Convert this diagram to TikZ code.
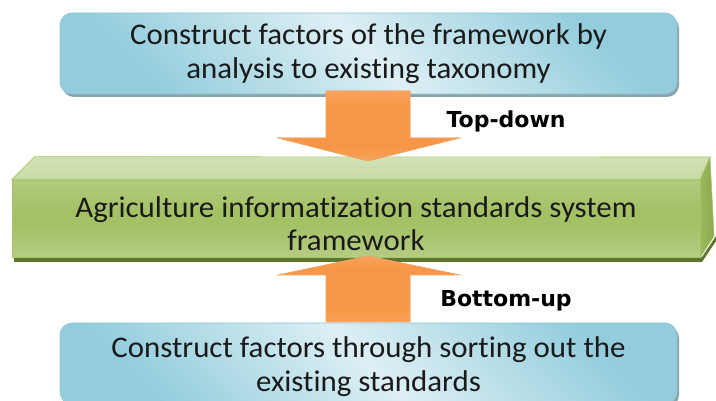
\documentclass[tikz,border=0pt]{standalone}
\usepackage{fontspec}
\setmainfont{Carlito}[FakeStretch=1.03, Ligatures={NoCommon}]
\newfontfamily\labfont{DejaVu Sans}
\usetikzlibrary{calc,shadows}
\definecolor{bdark}{HTML}{93CDDD}
\definecolor{blight}{HTML}{DDEFF4}
\definecolor{bedge}{HTML}{8DC6D6}
\definecolor{bshadow}{HTML}{8BA4AC}
\definecolor{gtop}{HTML}{C4D79C}
\definecolor{gmid}{HTML}{A4C166}
\definecolor{gbot}{HTML}{CBDCA9}
\definecolor{gedge}{HTML}{A9C56F}
\definecolor{gtopface}{HTML}{C8DBA4}
\definecolor{gside}{HTML}{9BB95C}
\definecolor{gsidedark}{HTML}{8AA84C}
\definecolor{gshadow}{HTML}{5E7430}
\definecolor{olight}{HTML}{FBC195}
\definecolor{omid}{HTML}{F79646}
\definecolor{oedge}{HTML}{F8A767}
\definecolor{oshadow}{HTML}{A9530C}
\definecolor{txt}{HTML}{1A1A1A}
\pgfdeclareverticalshading{bluediag}{100bp}{color(0bp)=(bdark); color(25bp)=(bdark); color(50bp)=(blight); color(75bp)=(bdark); color(100bp)=(bdark)}
\pgfdeclareverticalshading{greenfront}{100bp}{color(0bp)=(gbot); color(45bp)=(gmid); color(55bp)=(gmid); color(100bp)=(gtop)}
\pgfdeclareverticalshading{orangev}{100bp}{color(0bp)=(olight); color(35bp)=(omid); color(65bp)=(omid); color(100bp)=(olight)}
\tikzset{
  bluebox/.style={draw=bedge, line width=0.6pt, rounded corners=12pt, shading=bluediag, shading angle=-45,
    minimum width=617pt, minimum height=81pt, inner sep=0pt,
    drop shadow={shadow xshift=2pt, shadow yshift=-3pt, fill=bshadow, opacity=1}},
  boxtext/.style={inner sep=0pt, align=center, font=\fontsize{30}{34}\selectfont, text=txt},
  greenfront/.style={draw=gedge, line width=0.6pt, shading=greenfront, minimum width=688pt, minimum height=77pt,
    inner sep=0pt},
  blockarrow/.style={shading=orangev, draw=oedge, line width=0.6pt, line join=miter},
  arrowshadow/.style={fill=oshadow},
  lab/.style={font=\labfont\bfseries\fontsize{22}{24}\selectfont, text=black, inner sep=0pt, anchor=base},
}
\begin{document}
\begin{tikzpicture}[x=1pt,y=-1pt]
\useasboundingbox (0,0) rectangle (716,401);
\clip (0,0) rectangle (716,401);
\fill[white] (0,0) rectangle (716,401);

% top box
\node[bluebox] (top) at (368.5,53.5) {};
\node[boxtext] (toptext) at ($(top.center)+(0,0)$) {Construct factors of the framework by\\analysis to existing taxonomy};

% bottom box
\node[bluebox] (bottom) at (368.5,363.5) {};
\node[boxtext] (bottomtext) at ($(bottom.center)+(0,3)$) {Construct factors through sorting out the\\existing standards};

% green 3D box
\fill[gshadow] (14,257) -- (14,262) -- (702,262) -- (716,241) -- (716,236) -- (702,257) -- cycle;
\node[greenfront] (mid) at (356,218.5) {};
\shade[top color=gtopface!80!white, bottom color=gtopface, draw=gedge, line width=0.6pt]
  (mid.north west) -- ++(23,-23) -- (710,157) -- (mid.north east) -- cycle;
\shade[left color=gside, right color=gsidedark, draw=gedge, line width=0.6pt]
  (mid.north east) -- (710,157) -- (714,236) -- (mid.south east) -- cycle;
\node[boxtext, font=\fontsize{30}{33}\selectfont] (midtext) at ($(mid.center)+(0,5)$) {Agriculture informatization standards system\\framework};

% top-down arrow
\coordinate (tdS) at (368,91);
\coordinate (tdT) at (368,161);
\fill[arrowshadow, shift={(3,3)}] ($(tdS)+(-42,0)$) -- ($(tdS)+(42,0)$) -- ($(tdT)+(42,-23)$) -- ($(tdT)+(92,-23)$) -- (tdT) -- ($(tdT)+(-90,-23)$) -- ($(tdT)+(-42,-23)$) -- cycle;
\shade[blockarrow] ($(tdS)+(-42,0)$) -- ($(tdS)+(42,0)$) -- ($(tdT)+(42,-23)$) -- ($(tdT)+(92,-23)$) -- (tdT) -- ($(tdT)+(-90,-23)$) -- ($(tdT)+(-42,-23)$) -- cycle;

% bottom-up arrow
\coordinate (buT) at (368,256);
\coordinate (buS) at (368,322);
\fill[arrowshadow, shift={(3,3)}] (buT) -- ($(buT)+(92,19)$) -- ($(buT)+(42,19)$) -- ($(buS)+(42,0)$) -- ($(buS)+(-42,0)$) -- ($(buT)+(-42,19)$) -- ($(buT)+(-90,19)$) -- cycle;
\shade[blockarrow] (buT) -- ($(buT)+(92,19)$) -- ($(buT)+(42,19)$) -- ($(buS)+(42,0)$) -- ($(buS)+(-42,0)$) -- ($(buT)+(-42,19)$) -- ($(buT)+(-90,19)$) -- cycle;

% labels
\node[lab] (tdlab) at (506,128) {Top-down};
\node[lab] (bulab) at (506,307) {Bottom-up};
\end{tikzpicture}
\end{document}
